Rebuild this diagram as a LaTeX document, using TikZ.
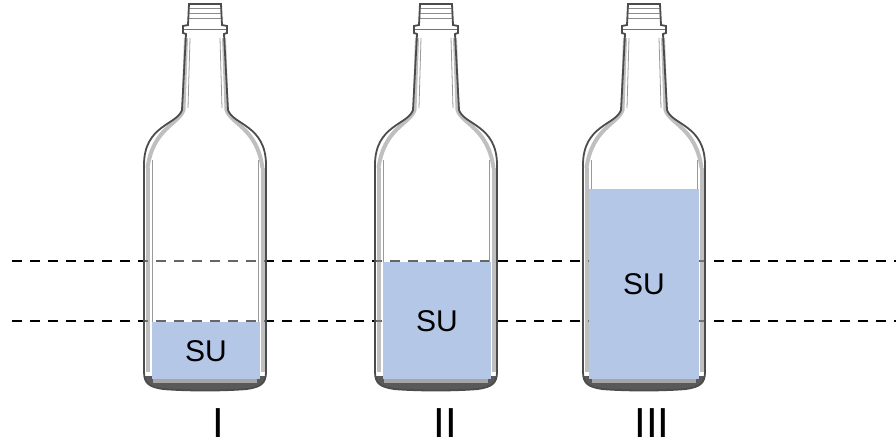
\documentclass[tikz,border=0pt]{standalone}
\usepackage{fontspec}
\setmainfont{Liberation Sans}
\begin{document}
\begin{tikzpicture}[x=1pt,y=-1pt,
  dline/.style={line width=2.4pt, dash pattern=on 10pt off 8pt, black},
  water/.style={fill={rgb,255:red,180;green,199;blue,231}},
  sutext/.style={font=\fontsize{30}{30}\selectfont, inner sep=0pt},
  numtext/.style={font=\fontsize{42}{42}\selectfont, inner sep=0pt},
  glassout/.style={draw=black!70, line width=1.8pt},
  wall/.style={draw=black!50, line width=4pt, draw opacity=0.5},
  thinwall/.style={draw=black!40, line width=0.8pt},
  glassbottle/.pic={
    \path[fill=white, fill opacity=0.4]
      (-16,4) -- (16,4) -- (17,25) -- (22,26) -- (22,33) -- (19,34) -- (23,110)
      .. controls (28,125) and (61,125) .. (61,165) -- (61,372)
      .. controls (61,384) and (55,387) .. (42,389)
      .. controls (20,391) and (-20,391) .. (-42,389)
      .. controls (-55,387) and (-61,384) .. (-61,372) -- (-61,165)
      .. controls (-61,125) and (-28,125) .. (-23,110) -- (-19,34) -- (-22,33)
      -- (-22,26) -- (-17,25) -- cycle;
    \begin{scope}
      \clip (-61,300) rectangle (61,395);
      \fill[black!65] (-61,376) -- (61,376) -- (61,372)
        .. controls (61,384) and (55,387) .. (42,389)
        .. controls (20,391) and (-20,391) .. (-42,389)
        .. controls (-55,387) and (-61,384) .. (-61,372) -- cycle;
      \fill[black!35] (-52,377) rectangle (52,383);
    \end{scope}
    % inner walls
    \draw[wall] (-57.5,168) -- (-57.5,372);
    \draw[wall] (57.5,168) -- (57.5,372);
    \draw[thinwall] (-53,160) -- (-53,372);
    \draw[thinwall] (53,160) -- (53,372);
    \draw[wall] (-19,38) -- (-21.5,110) .. controls (-26,124) and (-52,128) .. (-57.5,168);
    \draw[wall] (19,38) -- (21.5,110) .. controls (26,124) and (52,128) .. (57.5,168);
    \draw[thinwall] (-15,38) -- (-17,108);
    \draw[thinwall] (15,38) -- (17,108);
    % cap threads
    \draw[black!45, line width=0.8pt] (-16,8) -- (16,8);
    \draw[black!45, line width=0.8pt] (-16.5,13) -- (16.5,13);
    \draw[black!45, line width=0.8pt] (-17,18) -- (17,18);
    \draw[black!55, line width=1pt] (-22,29.5) -- (22,29.5);
    \draw[glassout]
      (-16,4) -- (16,4) -- (17,25) -- (22,26) -- (22,33) -- (19,34) -- (23,110)
      .. controls (28,125) and (61,125) .. (61,165) -- (61,372)
      .. controls (61,384) and (55,387) .. (42,389)
      .. controls (20,391) and (-20,391) .. (-42,389)
      .. controls (-55,387) and (-61,384) .. (-61,372) -- (-61,165)
      .. controls (-61,125) and (-28,125) .. (-23,110) -- (-19,34) -- (-22,33)
      -- (-22,26) -- (-17,25) -- cycle;
  }
]
\useasboundingbox[fill=white] (0,0) rectangle (896,447);

% dashed reference lines
\coordinate (upperL) at (12,261);
\coordinate (upperR) at (896,261);
\coordinate (lowerL) at (12,321);
\coordinate (lowerR) at (896,321);
\draw[dline] (upperL) -- (upperR);
\draw[dline] (lowerL) -- (lowerR);

% bottles
\pic (b1) at (205,0) {glassbottle};
\pic (b2) at (436,0) {glassbottle};
\pic (b3) at (644,0) {glassbottle};

% water
\fill[water] (152,322) rectangle (260,379);
\fill[water] (383,262) rectangle (491,379);
\fill[water] (589,189) rectangle (699,379);

% texts
\node[sutext] (su1) at (206,351) {SU};
\node[sutext] (su2) at (437,321) {SU};
\node[sutext] (su3) at (644,284) {SU};
\node[numtext] (n1) at (218,423) {I};
\node[numtext] (n2) at (445,423) {II};
\node[numtext] (n3) at (652,423) {III};
\end{tikzpicture}
\end{document}
